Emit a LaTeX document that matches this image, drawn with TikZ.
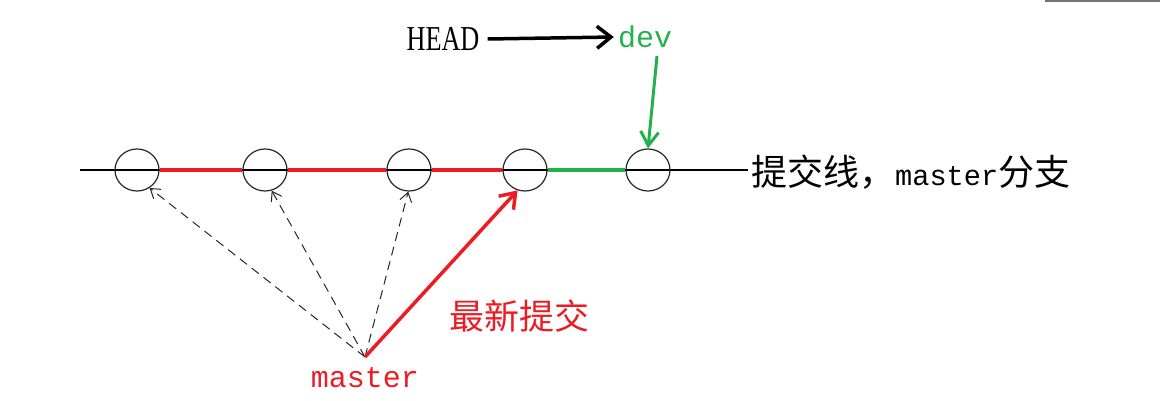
\documentclass[tikz,border=0pt]{standalone}
\usepackage{fontspec}
\setmainfont{Liberation Serif}
\newfontfamily\cjk{Noto Sans CJK SC}
\newfontfamily\mono{Liberation Mono}
\usetikzlibrary{arrows.meta,shapes.geometric}
\definecolor{pred}{RGB}{237,28,36}
\definecolor{pgreen}{RGB}{34,177,76}
\tikzset{
  commit/.style={draw=black!85, line width=1.2pt, ellipse, minimum width=44pt, minimum height=42pt, inner sep=0pt},
  base/.style={black, line width=1.2pt},
  redseg/.style={pred, line width=3.5pt},
  greenseg/.style={pgreen, line width=3.5pt},
  dasharrow/.style={black!85, line width=1pt, dash pattern=on 9pt off 6pt, -{Straight Barb[length=9pt,width=12pt,line width=1pt]}},
  redarrow/.style={pred, line width=3.5pt, -{Straight Barb[length=14pt,width=20pt,line width=3.5pt]}},
  greenarrow/.style={pgreen, line width=3pt, -{Straight Barb[length=14pt,width=18pt,line width=3pt]}},
  headarrow/.style={black, line width=3.5pt, -{Straight Barb[length=14pt,width=22pt,line width=3.5pt]}},
  lbl/.style={inner sep=0pt}
}
\begin{document}
\begin{tikzpicture}[x=1pt,y=-1pt]
\useasboundingbox (0,0) rectangle (1160,401);
\fill[black!55] (1045,0) rectangle (1160,2.5);
% main line
\coordinate (L0) at (80,170);
\coordinate (L1) at (748,170);
\draw[base] (L0) -- (L1);
\node[commit] (c1) at (137,170) {};
\node[commit] (c2) at (265,170) {};
\node[commit] (c3) at (409,170) {};
\node[commit] (c4) at (525,170) {};
\node[commit] (c5) at (648,170) {};
\draw[redseg] (c1.east) -- (c2.west);
\draw[redseg] (c2.east) -- (c3.west);
\draw[redseg] (c3.east) -- (c4.west);
\draw[greenseg] (c4.east) -- (c5.west);
% label of line
\node[lbl, anchor=west] (branch) at (751,172) {\fontsize{36}{40}\selectfont\cjk 提交线，{\mono\fontsize{28.6}{32}\selectfont master}分支};
% HEAD and dev
\node[lbl] (head) at (443,39) {\scalebox{0.75}[1]{\fontsize{35}{38}\selectfont HEAD}};
\node[lbl, text=pgreen] (dev) at (645,37) {\fontsize{30}{32}\selectfont\mono dev};
\draw[headarrow] ([xshift=8pt]head.east) -- ([xshift=-4pt]dev.west);
\coordinate (devbot) at (657,56);
\draw[greenarrow] (devbot) -- (c5.north);
% master
\coordinate (m) at (365,357);
\node[lbl, text=pred] (master) at (365,378) {\fontsize{30}{32}\selectfont\mono master};
\draw[dasharrow] (m) -- (c1.-55);
\draw[dasharrow] (m) -- (c2.-72);
\draw[dasharrow] (m) -- (c3.-92);
\draw[redarrow] (m) -- (c4.250);
\node[lbl, text=pred, anchor=west] (newest) at (449,316) {\fontsize{35}{38}\selectfont\cjk 最新提交};
\end{tikzpicture}
\end{document}
